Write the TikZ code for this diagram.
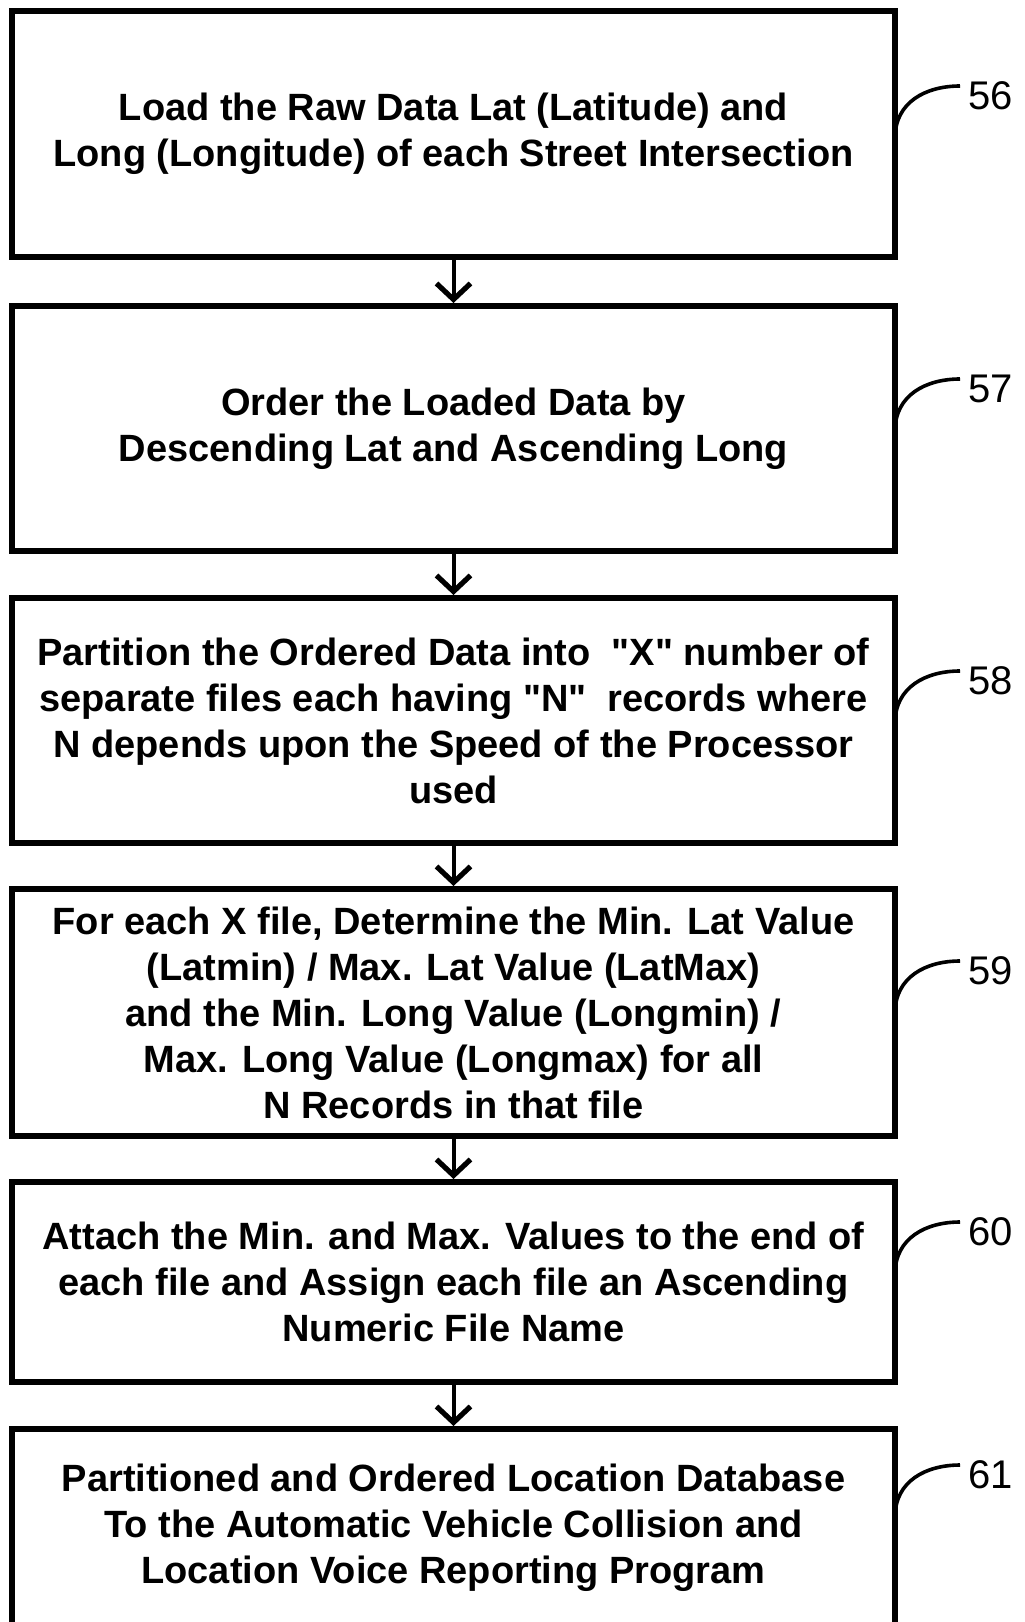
\documentclass[tikz,border=0pt]{standalone}
\usepackage{fontspec}
\setmainfont{Liberation Sans}
\usepackage{tikz}
\usetikzlibrary{arrows.meta}
\tikzset{
Etape/.style={
 draw=black, 
 line width=3pt, 
 rectangle, 
 inner sep=0pt, 
 minimum width=441.5pt, 
 align=center, 
 font=\bfseries\fontsize{19pt}{23pt}\selectfont
 },
Fleche/.style={
 draw=black, 
 line width=2pt, 
 -{Straight Barb[length=8pt,width=17pt,line width=2.6pt]}
 },
Renvoi/.style={
 draw=black, 
 line width=1.8pt
 },
Numero/.style={
 inner sep=0pt, 
 anchor=west, 
 font=\fontsize{20pt}{24pt}\selectfont
 }
}
\newcommand{\Guill}[1]{\textquotedbl #1\textquotedbl}
\begin{document}
\begin{tikzpicture}[x=0.5pt,y=-0.5pt]
\useasboundingbox (0,0) rectangle (1024,1622);
\node[Etape,minimum height=123pt] (b1) at (453.5,134) {Load the Raw Data Lat (Latitude) and\\Long (Longitude) of each Street Intersection};
\node[Etape,minimum height=122.5pt] (b2) at (453.5,428.5) {Order the Loaded Data by\\Descending Lat and Ascending Long};
\node[Etape,minimum height=122.5pt] (b3) at (453.5,720.5) {Partition the Ordered Data into\ \ \Guill{X} number of\\separate files each having \Guill{N}\ \ records where\\N depends upon the Speed of the Processor\\used};
\node[Etape,minimum height=123.5pt] (b4) at (453.5,1012.5) {For each X file, Determine the Min. Lat Value\\(Latmin) / Max. Lat Value (LatMax)\\and the Min. Long Value (Longmin) /\\Max. Long Value (Longmax) for all\\N Records in that file};
\node[Etape,minimum height=100pt] (b5) at (453.5,1282) {Attach the Min. and Max. Values to the end of\\each file and Assign each file an Ascending\\Numeric File Name};
\node[Etape,minimum height=99pt] (b6) at (453.5,1528) {Partitioned and Ordered Location Database\\To the Automatic Vehicle Collision and\\Location Voice Reporting Program};
\draw[Fleche] (b1) -- (b2);
\draw[Fleche] (b2) -- (b3);
\draw[Fleche] (b3) -- (b4);
\draw[Fleche] (b4) -- (b5);
\draw[Fleche] (b5) -- (b6);
% reference numerals
\foreach \n/\y in {56/96,57/389,58/681,59/971,60/1232,61/1475}{
 \node[Numero] (n\n) at (968,\y) {\n};
 \coordinate (p\n) at (895,\y+42);
 \draw[Renvoi] (p\n) .. controls +(0,-36) and +(-34,0) .. ([shift={(-8,-10)}]n\n.west);
}
\end{tikzpicture}
\end{document}
